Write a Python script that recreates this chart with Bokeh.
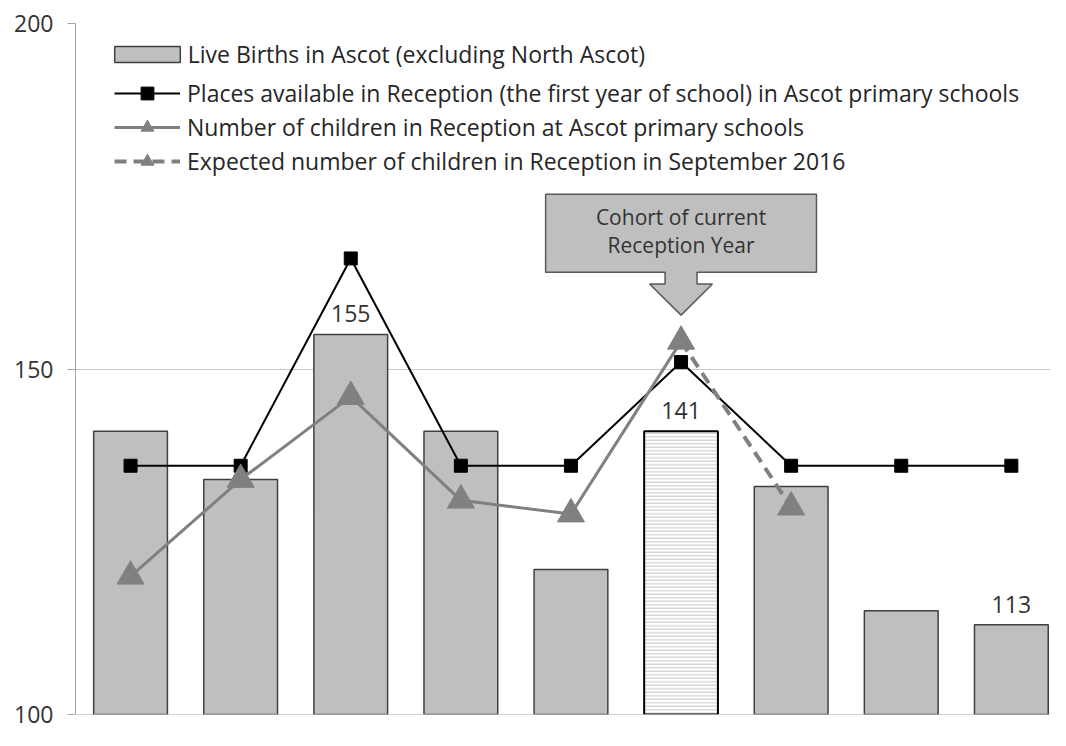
from bokeh.plotting import figure
from bokeh.models import Legend, LegendItem, Range1d, FixedTicker, Span
from bokeh.embed import file_html
from bokeh.resources import INLINE
from bokeh.core.properties import value

# ---------------- data ----------------
positions = list(range(9))
births = [141, 134, 155, 141, 121, 141, 133, 115, 113]
places = [136, 136, 166, 136, 136, 151, 136, 136, 136]
children = [120, 134, 146, 131, 129, 154]          # positions 0..5
expected_pos = [5, 6]
expected = [154, 130]
labelled = [2, 5, 8]          # bars that carry a value label
highlight = 5                 # hatched bar (cohort of current reception year)
y_ticks = [100, 150, 200]
legend_labels = [
    "Live Births in Ascot (excluding North Ascot)",
    "Places available in Reception (the first year of school) in Ascot primary schools",
    "Number of children in Reception at Ascot primary schools",
    "Expected number of children in Reception in September 2016",
]
callout_lines = ["Cohort of current", "Reception Year"]

FONT_NAME = "Open Sans"
FONT = value(FONT_NAME)
BAR_FILL = "#bfbfbf"
BAR_LINE = "#404040"
GREY = "#808080"

W, H = 1050, 730
LEFT, TOP, BOTTOM = 75, 23, 16
CAT_W = 110.1

p = figure(width=W, height=H, output_backend="svg", toolbar_location=None,
           x_range=Range1d(-0.5, -0.5 + (W - LEFT) / CAT_W), y_range=Range1d(100, 200),
           min_border_left=LEFT, min_border_right=0, min_border_top=TOP,
           min_border_bottom=BOTTOM)
p.outline_line_color = None
p.background_fill_color = "white"
p.xaxis.visible = False
p.xgrid.visible = False
p.ygrid.ticker = FixedTicker(ticks=y_ticks)
p.ygrid.grid_line_color = "#c8c8c8"
p.yaxis.ticker = FixedTicker(ticks=y_ticks)
p.yaxis.axis_line_color = "#a6a6a6"
p.yaxis.major_tick_line_color = "#a6a6a6"
p.yaxis.major_tick_out = 8
p.yaxis.major_tick_in = 0
p.yaxis.minor_tick_line_color = None
p.yaxis.major_label_text_font = FONT_NAME
p.yaxis.major_label_text_font_size = "23px"
p.yaxis.major_label_text_color = "#333333"
p.yaxis.major_label_standoff = 14
p.add_layout(Span(location=100, dimension="width", line_color="#a6a6a6", line_width=1))

# ---------------- bars ----------------
nx = [x for x in positions if x != highlight]
nt = [births[x] for x in positions if x != highlight]
bars = p.vbar(x=nx, top=nt, bottom=100, width=0.67, fill_color=BAR_FILL,
              line_color=BAR_LINE, line_width=1.5)
p.vbar(x=[highlight], top=[births[highlight]], bottom=100, width=0.67,
       fill_color="white", line_color="black", line_width=2,
       hatch_pattern="horizontal_line", hatch_color="#c4c4c4", hatch_scale=3.5,
       hatch_weight=1)

# value labels
p.text(x=[positions[i] for i in labelled], y=[births[i] for i in labelled],
       text=[str(births[i]) for i in labelled], text_align="center",
       text_baseline="bottom", y_offset=-12, text_font=FONT,
       text_font_size="23px", text_color="#333333")

# ---------------- lines ----------------
pl = p.line(positions, places, line_color="black", line_width=2)
ps = p.scatter(positions, places, marker="square", size=13, fill_color="black",
               line_color="black")

cl = p.line(positions[:len(children)], children, line_color=GREY, line_width=3)
cs = p.scatter(positions[:len(children)], children, marker="triangle", size=27,
               fill_color=GREY, line_color=GREY)

el = p.line(expected_pos, expected, line_color=GREY, line_width=4, line_dash="12 7")
es = p.scatter(expected_pos[1:], expected[1:], marker="triangle", size=27,
               fill_color=GREY, line_color=GREY)

# ---------------- callout ----------------
cx = highlight
bl, br, bt, bb = cx - 1.23, cx + 1.23, 175.3, 164.0
sw, ww, ht, tip = 0.145, 0.285, 162.3, 157.8
p.patch(x=[bl, br, br, cx + sw, cx + sw, cx + ww, cx, cx - ww, cx - sw, cx - sw, bl],
        y=[bt, bt, bb, bb, ht, ht, tip, ht, ht, bb, bb],
        fill_color=BAR_FILL, line_color="#595959", line_width=1.5)
p.text(x=[cx, cx], y=[172.0, 167.9], text=callout_lines, text_align="center",
       text_baseline="middle", text_font=FONT, text_font_size="21px",
       text_color="#333333")

# ---------------- legends ----------------
frame_bottom = H - BOTTOM
common = dict(padding=0, margin=0, border_line_color=None, background_fill_alpha=0,
              label_text_font=FONT_NAME, label_text_font_size="23px",
              label_text_color="#262626")
leg1 = Legend(items=[LegendItem(label=legend_labels[0], renderers=[bars])],
              location=(114 - 8.2 - LEFT, frame_bottom - 70), glyph_width=82,
              glyph_height=20, label_height=20, label_standoff=0, **common)
leg2 = Legend(items=[LegendItem(label=legend_labels[1], renderers=[pl, ps]),
                     LegendItem(label=legend_labels[2], renderers=[cl, cs]),
                     LegendItem(label=legend_labels[3], renderers=[el, es])],
              location=(114 - LEFT, frame_bottom - 177), glyph_width=66,
              glyph_height=32, label_height=32, spacing=2, label_standoff=7, **common)
p.add_layout(leg1)
p.add_layout(leg2)

open("out.html", "w").write(file_html(p, INLINE))
